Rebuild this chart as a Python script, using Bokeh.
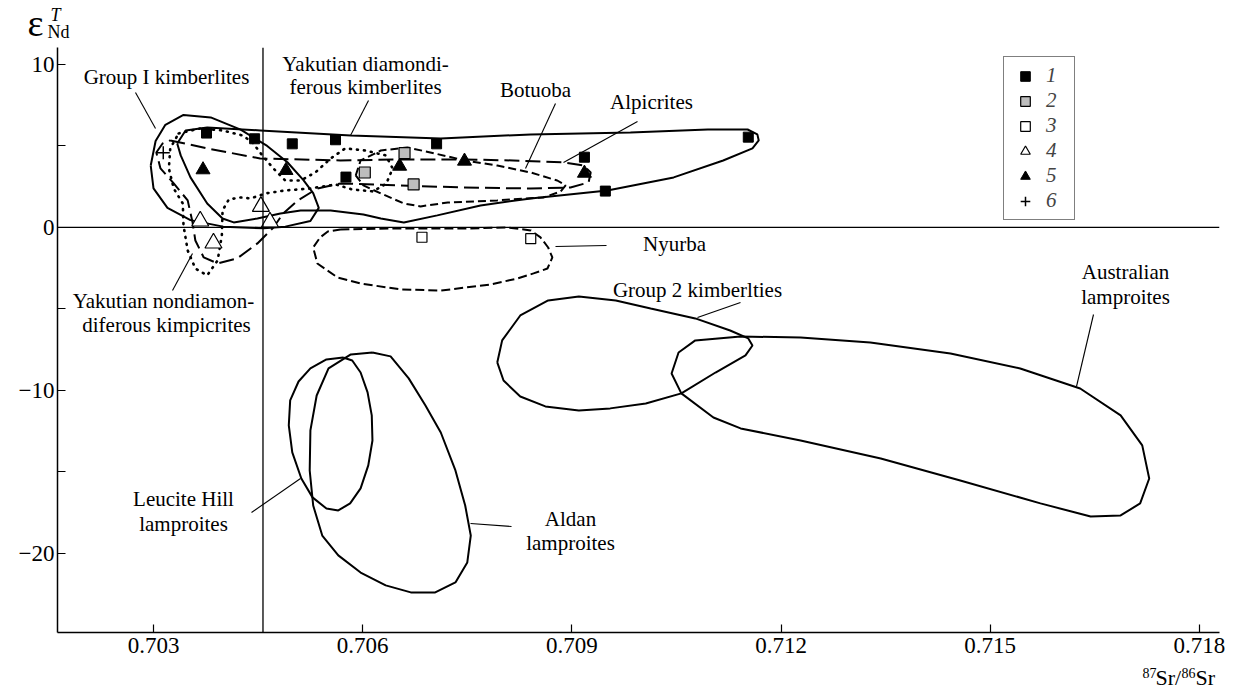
from bokeh.plotting import figure
from bokeh.layouts import column
from bokeh.models import Range1d, FixedTicker, Span, Label, Legend, LegendItem, NumeralTickFormatter
from bokeh.embed import file_html
from bokeh.resources import INLINE

# ---------------- data ----------------
x_ticks = [0.703, 0.706, 0.709, 0.712, 0.715, 0.718]
x_tick_labels = ["0.703", "0.706", "0.709", "0.712", "0.715", "0.718"]
y_ticks = [-20, -10, 0, 10]
y_tick_labels = ["\u221220", "\u221210", "0", "10"]
y_minor_ticks = [-15, -5, 5]
bulk_earth_sr = 0.70457

# 1 black squares
s1_x = [0.70376, 0.70445, 0.70499, 0.70561, 0.70706, 0.70918, 0.70948, 0.70576, 0.71153]
s1_y = [5.79, 5.44, 5.13, 5.38, 5.13, 4.31, 2.23, 3.09, 5.54]
# 2 grey squares
s2_x = [0.70603, 0.70660, 0.70673]
s2_y = [3.37, 4.56, 2.64]
# 3 open squares
s3_x = [0.70685, 0.70841]
s3_y = [-0.60, -0.69]
# 4 open triangles
s4_x = [0.70454, 0.70367, 0.70467, 0.70386]
s4_y = [1.29, 0.39, 0.33, -0.96]
# 5 black triangles
s5_x = [0.70371, 0.70490, 0.70653, 0.70746, 0.70918]
s5_y = [3.54, 3.50, 3.76, 4.07, 3.33]
# 6 crosses
s6_x = [0.70314]
s6_y = [4.58]

# field outlines (closed)
gi_x = [0.70296, 0.70303, 0.70317, 0.70343, 0.70382, 0.70425, 0.70463, 0.70492, 0.70515, 0.70529,
        0.70537, 0.70525, 0.70489, 0.70458, 0.70400, 0.70353, 0.70320, 0.70300]
gi_y = [3.8, 5.3, 6.3, 6.9, 6.75, 6.0, 5.0, 4.0, 2.9, 2.1, 1.2, 0.4, 0.05, -0.05, 0.05, 0.45, 1.2, 2.4]

yd_x = [0.70334, 0.70346, 0.70377, 0.70453, 0.70583, 0.70712, 0.70841, 0.70984, 0.71095, 0.71152,
        0.71166, 0.71168, 0.71159, 0.71117, 0.71046, 0.70951, 0.70841, 0.70769, 0.70707, 0.70659,
        0.70626, 0.70601, 0.70554, 0.70511, 0.70482, 0.70449, 0.70415, 0.70399, 0.70377, 0.70353, 0.70339]
yd_y = [5.15, 5.95, 6.13, 5.95, 5.64, 5.46, 5.71, 5.83, 6.01, 6.01,
        5.71, 5.34, 4.85, 4.11, 3.07, 2.27, 1.78, 1.35, 0.74, 0.31,
        0.55, 0.80, 1.04, 1.04, 0.86, 0.55, 0.31, 0.55, 1.47, 3.07, 4.42]

yn_x = [0.70336, 0.70367, 0.70399, 0.70428, 0.70442, 0.70456, 0.70472, 0.70489, 0.70511, 0.70532,
        0.70554, 0.70575, 0.70604, 0.70633, 0.70643, 0.70634, 0.70615, 0.70585, 0.70561, 0.70525,
        0.70489, 0.70461, 0.70439, 0.70425, 0.70408, 0.70399, 0.70398, 0.70392, 0.70377, 0.70360,
        0.70349, 0.70343, 0.70342, 0.70329, 0.70322, 0.70324]
yn_y = [5.77, 6.07, 5.95, 5.64, 5.21, 4.42, 3.62, 2.88, 2.88, 3.37,
        4.23, 4.85, 4.72, 4.42, 3.62, 2.70, 2.21, 2.33, 2.64, 2.39,
        2.27, 2.09, 1.78, 1.84, 1.72, 1.04, -0.49, -2.02, -2.94, -2.52,
        -1.41, 0.12, 1.47, 2.39, 3.62, 4.85]

alp_x = [0.70324, 0.70377, 0.70453, 0.70568, 0.70650, 0.70745, 0.70816, 0.70888, 0.70917, 0.70927,
         0.70924, 0.70898, 0.70841, 0.70745, 0.70650, 0.70568, 0.70535, 0.70507, 0.70486, 0.70472,
         0.70449, 0.70420, 0.70392, 0.70372, 0.70360, 0.70356, 0.70349, 0.70329, 0.70310, 0.70304, 0.70313]
alp_y = [5.34, 4.85, 4.23, 4.11, 4.17, 4.17, 4.11, 3.99, 3.80, 3.37,
         2.76, 2.45, 2.39, 2.45, 2.58, 2.70, 2.39, 1.66, 0.86, 0.0,
         -0.98, -1.90, -2.21, -1.84, -0.80, 0.31, 1.66, 2.70, 3.62, 4.60, 5.15]

bot_x = [0.70590, 0.70597, 0.70626, 0.70664, 0.70697, 0.70747, 0.70793, 0.70841, 0.70879, 0.70891,
         0.70884, 0.70859, 0.70793, 0.70722, 0.70683, 0.70659, 0.70626, 0.70601]
bot_y = [3.19, 4.11, 4.72, 4.91, 4.60, 4.11, 3.80, 3.37, 2.88, 2.58,
         2.21, 1.84, 1.66, 1.53, 1.29, 1.47, 2.09, 2.58]

nyu_x = [0.70568, 0.70654, 0.70755, 0.70808, 0.70841, 0.70855, 0.70866, 0.70872, 0.70865, 0.70845,
         0.70822, 0.70783, 0.70712, 0.70654, 0.70597, 0.70564, 0.70535, 0.70529, 0.70539, 0.70550]
nyu_y = [-0.12, -0.06, -0.06, 0.0, -0.18, -0.61, -1.23, -1.84, -2.52, -2.82,
         -3.13, -3.50, -3.87, -3.80, -3.44, -3.07, -2.21, -1.23, -0.61, -0.25]

g2_x = [0.70793, 0.70800, 0.70826, 0.70866, 0.70910, 0.70963, 0.71013, 0.71077, 0.71127, 0.71153,
        0.71159, 0.71149, 0.71106, 0.71057, 0.71006, 0.70955, 0.70910, 0.70862, 0.70826, 0.70802]
g2_y = [-8.28, -6.93, -5.40, -4.48, -4.23, -4.48, -4.97, -5.58, -6.32, -6.81,
        -7.24, -7.85, -8.90, -10.18, -10.80, -11.10, -11.23, -10.98, -10.37, -9.39]

aus_x = [0.71142, 0.71228, 0.71328, 0.71443, 0.71543, 0.71629, 0.71687, 0.71718, 0.71728, 0.71715,
         0.71687, 0.71644, 0.71572, 0.71457, 0.71343, 0.71228, 0.71142, 0.71103, 0.71057, 0.71043,
         0.71053, 0.71077]
aus_y = [-6.69, -6.75, -7.06, -7.73, -8.65, -9.88, -11.53, -13.37, -15.40, -16.93,
         -17.67, -17.73, -16.93, -15.52, -14.17, -13.07, -12.33, -11.66, -10.18, -8.96,
         -7.67, -6.93]

lh_x = [0.70572, 0.70585, 0.70597, 0.70607, 0.70613, 0.70614, 0.70608, 0.70597, 0.70582, 0.70565,
        0.70548, 0.70528, 0.70512, 0.70499, 0.70494, 0.70496, 0.70508, 0.70525, 0.70548]
lh_y = [-7.98, -8.16, -8.90, -10.12, -11.53, -13.07, -14.60, -16.01, -16.93, -17.36,
        -17.24, -16.56, -15.40, -13.80, -12.15, -10.61, -9.45, -8.65, -8.10]

ald_x = [0.70614, 0.70640, 0.70666, 0.70690, 0.70712, 0.70733, 0.70747, 0.70755, 0.70750, 0.70733,
         0.70704, 0.70669, 0.70633, 0.70597, 0.70565, 0.70542, 0.70529, 0.70524, 0.70525, 0.70534,
         0.70551, 0.70583]
ald_y = [-7.67, -7.91, -9.26, -10.92, -12.58, -14.91, -17.06, -18.90, -20.55, -21.78,
         -22.39, -22.39, -21.96, -21.17, -20.12, -18.90, -17.06, -14.91, -12.45, -10.31,
         -8.65, -7.79]

# ---------------- layout ----------------
W = 1235
TOP_H, MAIN_TOP, MAIN_BOT, H = 44, 44, 664, 690
X0, X1 = 0.701623, 0.718288
Y0, Y1 = -24.85, 11.04
FL, FT, FW, FH = 57, 47, 1162, 585   # frame in window pixels

def wx(px):
    return X0 + (px - FL) / FW * (X1 - X0)

def wy(py):
    return Y1 - (py - FT) / FH * (Y1 - Y0)

SERIF = "Liberation Serif"

def strip(height, top):
    f = figure(width=W, height=height, output_backend="svg", toolbar_location=None,
               x_range=Range1d(0, W), y_range=Range1d(top + height, top),
               x_axis_type=None, y_axis_type=None, min_border=0, frame_align=False)
    f.outline_line_color = None
    f.xgrid.visible = False
    f.ygrid.visible = False
    return f

def lab(fig, t, px, py, size, style="normal"):
    fig.add_layout(Label(x=px, y=py, text=t, text_font=SERIF, text_font_size=size,
                         text_font_style=style, text_align="left", text_baseline="middle",
                         text_color="black"))

# top strip: y-axis title
top = strip(TOP_H, 0)
lab(top, "\u03b5", 27, 22, "38px")
lab(top, "T", 50, 14, "18px", "italic")
lab(top, "Nd", 47, 31, "18px")

# bottom strip: x-axis title
bot = strip(H - MAIN_BOT, MAIN_BOT)
lab(bot, "87", 1142, 672, "14px")
lab(bot, "Sr/", 1155, 677, "22px")
lab(bot, "86", 1181, 672, "14px")
lab(bot, "Sr", 1195, 677, "22px")

p = figure(width=W, height=MAIN_BOT - MAIN_TOP, output_backend="svg", toolbar_location=None,
           x_range=Range1d(X0, X1), y_range=Range1d(Y0, Y1), frame_align=False,
           min_border_left=FL, min_border_right=W - FL - FW, min_border_top=FT - MAIN_TOP,
           min_border_bottom=MAIN_BOT - FT - FH)
p.outline_line_color = None
p.xgrid.grid_line_color = None
p.ygrid.grid_line_color = None

for ax in (p.xaxis, p.yaxis):
    ax.axis_line_color = "black"
    ax.axis_line_width = 1.5
    ax.major_tick_line_color = "black"
    ax.major_tick_line_width = 1.2
    ax.major_tick_in = 8
    ax.major_tick_out = 0
    ax.major_label_text_font = SERIF
    ax.major_label_text_font_size = "23px"
    ax.major_label_text_color = "black"

p.xaxis.ticker = FixedTicker(ticks=x_ticks)
p.xaxis.formatter = NumeralTickFormatter(format="0.000")
p.xaxis.major_label_overrides = {t: l for t, l in zip(x_ticks, x_tick_labels)}
p.xaxis.minor_tick_line_color = None
p.xaxis.major_label_standoff = 5

p.yaxis.ticker = FixedTicker(ticks=y_ticks, minor_ticks=y_minor_ticks)
p.yaxis.major_label_overrides = {t: l for t, l in zip(y_ticks, y_tick_labels)}
p.yaxis.minor_tick_line_color = "black"
p.yaxis.minor_tick_line_width = 1.2
p.yaxis.minor_tick_in = 8
p.yaxis.minor_tick_out = 0
p.yaxis.major_label_standoff = 3

p.add_layout(Span(location=0, dimension="width", line_color="black", line_width=1.3))
p.add_layout(Span(location=bulk_earth_sr, dimension="height", line_color="black", line_width=1.3))

def closed(a):
    return list(a) + [a[0]]

solid = dict(line_color="black", line_width=2)
p.line(closed(gi_x), closed(gi_y), **solid)
p.line(closed(yd_x), closed(yd_y), **solid)
p.line(closed(g2_x), closed(g2_y), **solid)
p.line(closed(aus_x), closed(aus_y), **solid)
p.line(closed(lh_x), closed(lh_y), **solid)
p.line(closed(ald_x), closed(ald_y), **solid)
p.line(closed(yn_x), closed(yn_y), line_color="black", line_width=2.6, line_dash="1 6", line_cap="round")
p.line(closed(alp_x), closed(alp_y), line_color="black", line_width=2, line_dash="15 6")
p.line(closed(bot_x), closed(bot_y), line_color="black", line_width=2, line_dash="8 4")
p.line(closed(nyu_x), closed(nyu_y), line_color="black", line_width=2, line_dash="9 4")

# leader lines (window pixel positions of the annotations)
leaders = [((135, 92), (155, 128)), ((368, 100), (350, 135)), ((555, 103), (525, 168)),
           ((637, 121), (563, 162)), ((555, 246), (606, 245)), ((697, 317), (740, 302)),
           ((1093, 314), (1076, 386)), ((470, 523), (511, 526)), ((251, 512), (300, 478)),
           ((172, 290), (192, 253))]
p.segment(x0=[wx(a[0]) for a, b in leaders], y0=[wy(a[1]) for a, b in leaders],
          x1=[wx(b[0]) for a, b in leaders], y1=[wy(b[1]) for a, b in leaders],
          line_color="black", line_width=1.1)

texts = [("Group I kimberlites", 166, 76), ("Yakutian diamondi-", 365, 63), ("ferous kimberlites", 365, 86),
         ("Botuoba", 535, 89), ("Alpicrites", 651, 101), ("Nyurba", 674, 243),
         ("Group 2 kimberlties", 697, 289), ("Australian", 1125, 271), ("lamproites", 1125, 296),
         ("Aldan", 570, 518), ("lamproites", 570, 542), ("Leucite Hill", 183, 498), ("lamproites", 183, 523),
         ("Yakutian nondiamon-", 163, 300), ("diferous kimpicrites", 166, 324)]
for t, px, py in texts:
    p.add_layout(Label(x=wx(px), y=wy(py), text=t, text_font=SERIF, text_font_size="21px",
                       text_align="center", text_baseline="middle", text_color="black"))

# markers
r1 = p.scatter(s1_x, s1_y, marker="square", size=10, fill_color="black", line_color="black")
r2 = p.scatter(s2_x, s2_y, marker="square", size=11, fill_color="#bdbdbd", line_color="black", line_width=1.2)
r3 = p.scatter(s3_x, s3_y, marker="square", size=10, fill_color="white", line_color="black", line_width=1.2)
r4 = p.scatter(s4_x, s4_y, marker="triangle", size=17, fill_color="white", line_color="black", line_width=1.2)
r5 = p.scatter(s5_x, s5_y, marker="triangle", size=14, fill_color="black", line_color="black")
r6 = p.scatter(s6_x, s6_y, marker="cross", size=13, line_color="black", line_width=1.5)

legend = Legend(items=[LegendItem(label="1", renderers=[r1]), LegendItem(label="2", renderers=[r2]),
                       LegendItem(label="3", renderers=[r3]), LegendItem(label="4", renderers=[r4]),
                       LegendItem(label="5", renderers=[r5]), LegendItem(label="6", renderers=[r6])],
                location=(946, 412), orientation="vertical",
                label_text_font=SERIF, label_text_font_style="italic", label_text_font_size="21px",
                glyph_width=30, glyph_height=24, label_height=24, label_width=22, label_standoff=6,
                spacing=0, padding=6, margin=0, border_line_color="black", border_line_width=1.2,
                background_fill_color="white", background_fill_alpha=1.0)
p.add_layout(legend)

layout = column(top, p, bot, spacing=0)
open("out.html", "w").write(file_html(layout, INLINE))
